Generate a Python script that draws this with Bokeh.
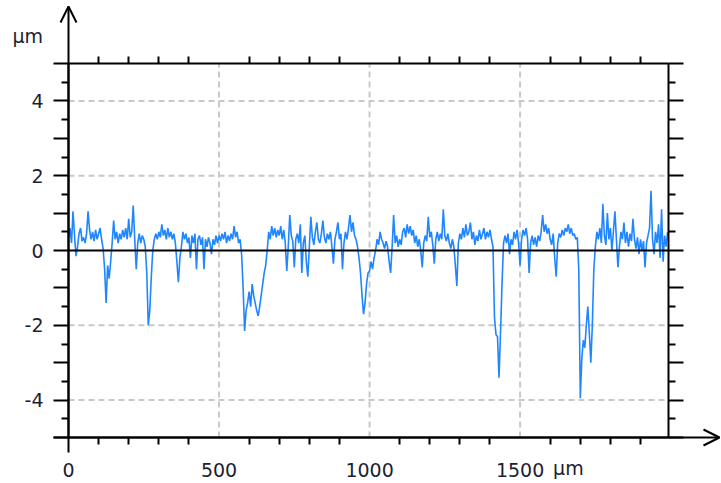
from bokeh.plotting import figure
from bokeh.models import (Range1d, LinearAxis, FixedTicker, Arrow, OpenHead, Label)
from bokeh.embed import file_html
from bokeh.resources import INLINE

# ---------------- data ----------------
step_um = 5  # profile sampling step, µm
profile_um = [
    0.35, 0.6, 0.2, 1.05, 0.4, -0.15, 0.1, 0.45, 0.6, 0.25, 0.35, 0.2, 0.45, 1.05, 0.55, 0.3, 0.5, 0.25, 0.55, 0.3,
    0.45, 0.6, 0.3, 0.05, -0.5, -1.4, -0.4, -0.75, -0.3, 0.2, 0.8, 0.3, 0.5, 0.2, 0.45, 0.3, 0.55, 0.35, 0.6, 0.3,
    0.85, 0.35, 0.5, 1.2, 0.3, -0.5, 0.2, 0.45, 0.2, 0.4, 0.3, 0.1, -0.6, -2.0, -1.6, -0.7, 0.0, 0.3, 0.45, 0.3,
    0.5, 0.35, 0.7, 0.4, 0.55, 0.3, 0.6, 0.35, 0.5, 0.3, 0.45, 0.2, -0.3, -0.85, -0.2, 0.1, 0.5, 0.3, 0.45, 0.2,
    0.35, -0.2, 0.4, 0.2, 0.45, -0.5, 0.3, 0.4, 0.15, 0.35, -0.5, 0.3, 0.1, 0.35, 0.2, -0.1, 0.3, 0.15, 0.4, 0.2,
    0.4, 0.25, 0.45, 0.3, 0.5, 0.2, 0.4, 0.25, 0.45, 0.3, 0.65, 0.35, 0.5, 0.2, 0.3, -0.1, -1.0, -2.15, -1.6, -1.4,
    -1.1, -1.5, -0.9, -1.2, -1.4, -1.6, -1.75, -1.5, -1.2, -0.9, -0.6, -0.4, 0.0, 0.5, 0.3, 0.65, 0.4, 0.6, 0.35, 0.55,
    0.4, 0.65, 0.3, 0.55, 0.2, -0.55, 0.1, 0.95, 0.4, 0.25, -0.45, 0.3, 0.45, 0.2, 0.7, -0.6, 0.2, 0.4, -0.3, -0.7,
    0.1, 0.9, 0.35, 0.15, 0.5, 0.75, 0.3, 0.2, 0.45, 0.8, 0.35, 0.2, 0.45, 0.3, 0.5, 0.1, -0.35, 0.3, 0.5, 0.75,
    0.3, 0.45, -0.5, 0.2, 0.5, 0.3, 0.6, 0.95, 0.5, 0.75, 0.4, 0.3, 0.1, -0.2, -0.6, -1.2, -1.7, -1.4, -0.9, -0.6,
    -0.55, -0.3, -0.5, -0.2, 0.0, 0.3, 0.15, 0.5, 0.3, 0.2, 0.05, 0.25, 0.1, -0.3, -0.6, 0.1, 0.95, 0.2, 0.4, 0.1,
    0.3, 0.15, 0.5, 0.6, 0.35, 0.7, 0.45, 0.65, 0.4, 0.55, 0.2, 0.4, 0.1, 0.3, 0.0, -0.45, 0.2, 0.4, 0.25, 0.9,
    0.35, 0.5, 0.15, -0.35, 0.3, 0.5, 0.25, 0.45, 0.3, 1.1, 0.4, 0.25, 0.45, 0.2, 0.05, 0.3, 0.1, -0.4, -0.95, 0.2,
    0.45, 0.3, 0.6, 0.35, 0.7, 0.4, 0.5, 0.75, 0.3, 0.5, 0.15, 0.4, 0.25, 0.55, 0.3, 0.45, 0.6, 0.3, 0.5, 0.35,
    0.55, 0.3, 0.1, -1.8, -2.25, -2.3, -3.4, -2.2, -0.9, 0.2, 0.4, 0.2, 0.45, -0.1, 0.3, 0.15, 0.5, 0.3, 0.55, 0.2,
    -0.4, 0.3, 0.55, 0.4, 0.6, 0.3, -0.6, 0.2, 0.4, 0.15, 0.35, 0.1, 0.4, 0.25, 0.5, 0.95, 0.5, 0.7, 0.45, 0.6,
    0.3, 0.15, 0.45, -0.2, -0.7, 0.2, 0.45, 0.35, 0.55, 0.4, 0.6, 0.5, 0.7, 0.45, 0.6, 0.4, 0.45, 0.3, 0.35, -0.5,
    -3.95, -2.9, -2.4, -2.6, -2.0, -1.5, -2.2, -3.0, -2.0, -0.5, 0.1, 0.5, 0.3, 0.6, 0.2, 1.25, 0.4, 0.15, 1.0, 0.3,
    0.6, 0.0, 0.5, 1.05, 0.3, -0.45, 0.1, 0.5, 0.3, 0.75, 0.2, 0.5, 0.1, 0.45, 0.25, 0.85, 0.3, 0.05, 0.35, -0.1,
    0.3, 0.0, 0.25, -0.45, 0.2, 0.4, 0.6, 1.6, 0.3, -0.1, 0.5, 0.2, 0.7, -0.2, 1.1, -0.3, 0.4, 0.1, 0.5,
]
x_um = [i * step_um for i in range(len(profile_um))]

x_major_ticks = [0, 500, 1000, 1500]
x_tick_labels = ["0", "500", "1000", "1500"]
x_minor_ticks = [v for v in range(100, 2000, 100) if v % 500 != 0]
y_major_ticks = list(range(-5, 6))
y_minor_ticks = [v + 0.5 for v in range(-5, 5)]
y_labelled = [-4, -2, 0, 2, 4]
x_grid = [500, 1000, 1500]
y_grid = [-4, -2, 2, 4]
unit = "µm"

X_MAX = 1993
Y_MIN, Y_MAX = -5, 5

# ---------------- layout (pixels) ----------------
W, H = 721, 483
FL, FR, FT, FB = 68, 668, 63, 437          # plot-area box in canvas pixels
kx = (FR - FL) / X_MAX                      # px per µm (x)
ky = (FB - FT) / (Y_MAX - Y_MIN)            # px per µm (y)
def dx(px):  # canvas x pixel -> data x
    return (px - FL) / kx
def dy(py):  # canvas y pixel -> data y
    return Y_MAX - (py - FT) / ky

FONT = "DejaVu Sans"
FSIZE = "19px"
TCOL = "#1e1e30"

p = figure(width=W, height=H, x_range=Range1d(dx(0), dx(W)), y_range=Range1d(dy(H), dy(0)),
           min_border=0, output_backend="svg", toolbar_location=None,
           x_axis_type=None, y_axis_type=None)
p.outline_line_color = None
p.xgrid.visible = False
p.ygrid.visible = False
p.background_fill_color = "white"
p.border_fill_color = "white"

# dashed grid lines (inside the plot box only)
grid_style = dict(line_color="#c8c8c8", line_width=2, line_dash="6 4")
p.segment(x0=x_grid, x1=x_grid, y0=[Y_MIN] * len(x_grid), y1=[Y_MAX] * len(x_grid), **grid_style)
p.segment(x0=[0] * len(y_grid), x1=[X_MAX] * len(y_grid), y0=y_grid, y1=y_grid, **grid_style)


def style(ax):
    ax.axis_line_width = 2
    ax.axis_line_color = "black"
    ax.major_tick_line_width = 2
    ax.minor_tick_line_width = 2
    ax.major_tick_line_color = "black"
    ax.minor_tick_line_color = "black"
    ax.major_tick_in = 0
    ax.minor_tick_in = 0
    ax.major_label_text_font = FONT
    ax.major_label_text_font_size = FSIZE
    ax.major_label_text_color = TCOL


left = LinearAxis(ticker=FixedTicker(ticks=y_major_ticks, minor_ticks=y_minor_ticks),
                  fixed_location=0, bounds=(Y_MIN, Y_MAX))
style(left)
left.major_tick_out = 15
left.minor_tick_out = 7
left.major_label_standoff = 10
left.major_label_overrides = {t: (str(t) if t in y_labelled else "") for t in y_major_ticks}
p.add_layout(left, "left")

right = LinearAxis(ticker=FixedTicker(ticks=y_major_ticks, minor_ticks=y_minor_ticks),
                   fixed_location=X_MAX, bounds=(Y_MIN, Y_MAX))
style(right)
right.major_tick_out = 15
right.minor_tick_out = 7
right.major_label_overrides = {t: "" for t in y_major_ticks}
p.add_layout(right, "right")

bottom = LinearAxis(ticker=FixedTicker(ticks=x_major_ticks, minor_ticks=x_minor_ticks),
                    fixed_location=Y_MIN, bounds=(0, X_MAX))
style(bottom)
bottom.major_tick_out = 0
bottom.minor_tick_out = 7
bottom.major_label_standoff = 18
bottom.major_label_overrides = dict(zip(x_major_ticks, x_tick_labels))
p.add_layout(bottom, "below")

top = LinearAxis(ticker=FixedTicker(ticks=x_major_ticks, minor_ticks=x_minor_ticks),
                 fixed_location=Y_MAX, bounds=(0, X_MAX))
style(top)
top.major_tick_out = 0
top.minor_tick_out = 7
top.major_label_overrides = {t: "" for t in x_major_ticks}
p.add_layout(top, "above")

# profile line
p.line(x_um, profile_um, line_color="#1f86ff", line_width=1.6)

# zero line (on top of the profile)
p.segment(x0=[0], x1=[X_MAX], y0=[0], y1=[0], line_color="black", line_width=2)

# axis arrows
head = dict(size=16, line_width=2, line_color="black")
p.add_layout(Arrow(x_start=0, y_start=dy(452), x_end=0, y_end=dy(6),
                   line_color="black", line_width=2, end=OpenHead(**head)))
p.add_layout(Arrow(x_start=dx(53), y_start=Y_MIN, x_end=dx(719), y_end=Y_MIN,
                   line_color="black", line_width=2, end=OpenHead(**head)))

# unit labels
p.add_layout(Label(x=dx(12), y=dy(35), text=unit, text_font=FONT, text_font_size=FSIZE,
                   text_color=TCOL, text_align="left", text_baseline="middle"))
p.add_layout(Label(x=1500, x_offset=33, y=dy(467), text=unit, text_font=FONT,
                   text_font_size=FSIZE, text_color=TCOL, text_align="left",
                   text_baseline="middle"))

open("out.html", "w").write(file_html(p, INLINE))
